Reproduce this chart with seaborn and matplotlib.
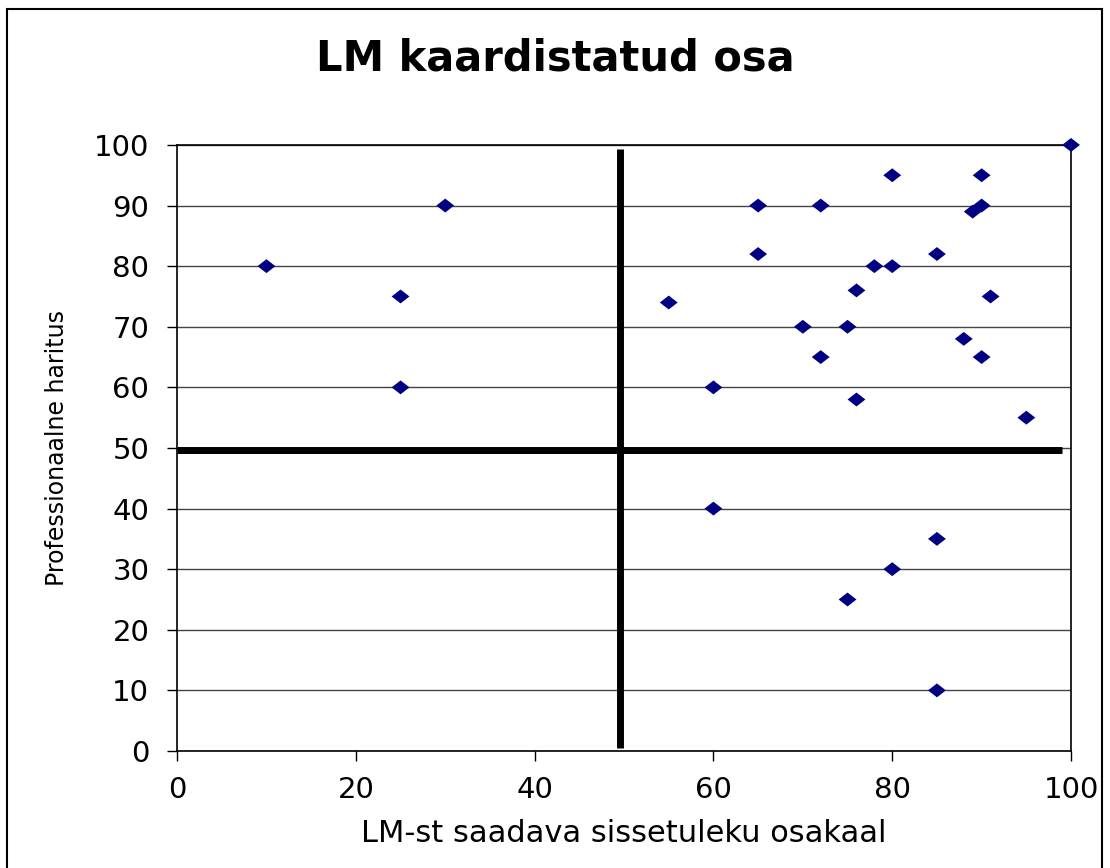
import matplotlib
matplotlib.use("Agg")
import matplotlib.pyplot as plt
import seaborn as sns
import pandas as pd
from matplotlib.patches import Rectangle

# data
lm_share = [10, 25, 25, 30, 55, 60, 60, 65, 65, 70, 72, 72, 75, 75, 76, 76,
            78, 80, 80, 80, 85, 85, 85, 88, 89, 90, 90, 90, 91, 95, 100]
prof_score = [80, 75, 60, 90, 74, 60, 40, 90, 82, 70, 90, 65, 70, 25, 76, 58,
              80, 95, 80, 30, 82, 35, 10, 68, 89, 95, 90, 65, 75, 55, 100]

# quadrant divider lines
split_x, split_x_span = 49.5, (0.5, 99.3)
split_y, split_y_span = 49.7, (0, 99)

x_ticks = [0, 20, 40, 60, 80, 100]
y_ticks = list(range(0, 101, 10))

df = pd.DataFrame({"x": lm_share, "y": prof_score})

sns.set_theme(style="white")
plt.rcParams["font.family"] = ["DejaVu Sans"]
plt.rcParams["text.color"] = "black"
plt.rcParams["axes.labelcolor"] = "black"
plt.rcParams["xtick.color"] = "black"
plt.rcParams["ytick.color"] = "black"

fig = plt.figure(figsize=(11.1, 8.68), dpi=100)
ax = fig.add_axes([0.1595, 0.1348, 0.8054, 0.6982])

# horizontal gridlines
for v in y_ticks:
    ax.axhline(v, color="#444444", linewidth=1.0, zorder=1)

diamond = [(-1, 0), (0, 0.78), (1, 0), (0, -0.78), (-1, 0)]
sns.scatterplot(data=df, x="x", y="y", ax=ax, marker=diamond, s=165,
                color="#000080", edgecolor="none", zorder=4, legend=False,
                clip_on=False)

ax.vlines(split_x, *split_x_span, color="black", linewidth=5, zorder=3)
ax.hlines(split_y, *split_y_span, color="black", linewidth=5, zorder=3)

ax.set_xlim(0, 100)
ax.set_ylim(0, 100)
ax.set_xticks(x_ticks)
ax.set_yticks(y_ticks)
ax.tick_params(axis="both", labelsize=21, length=7, width=1,
               direction="out", bottom=True, left=True)
ax.tick_params(axis="x", pad=11)
ax.tick_params(axis="y", pad=13)
for s in ax.spines.values():
    s.set_color("black")
    s.set_linewidth(1.2)
ax.grid(False)

ax.set_xlabel("LM-st saadava sissetuleku osakaal", fontsize=22, labelpad=11)
ax.set_ylabel("Professionaalne haritus", fontsize=17, labelpad=18)

fig.text(0.5, 0.933, "LM kaardistatud osa", ha="center", va="center",
         fontsize=30, fontweight="bold")

# outer chart frame
fig.patches.append(Rectangle((7 / 1110, -0.02), 1095 / 1110, 1.02 - 9 / 868,
                             transform=fig.transFigure, fill=False,
                             edgecolor="black", linewidth=1.5))

fig.savefig("out.png", dpi=100, facecolor="white")
